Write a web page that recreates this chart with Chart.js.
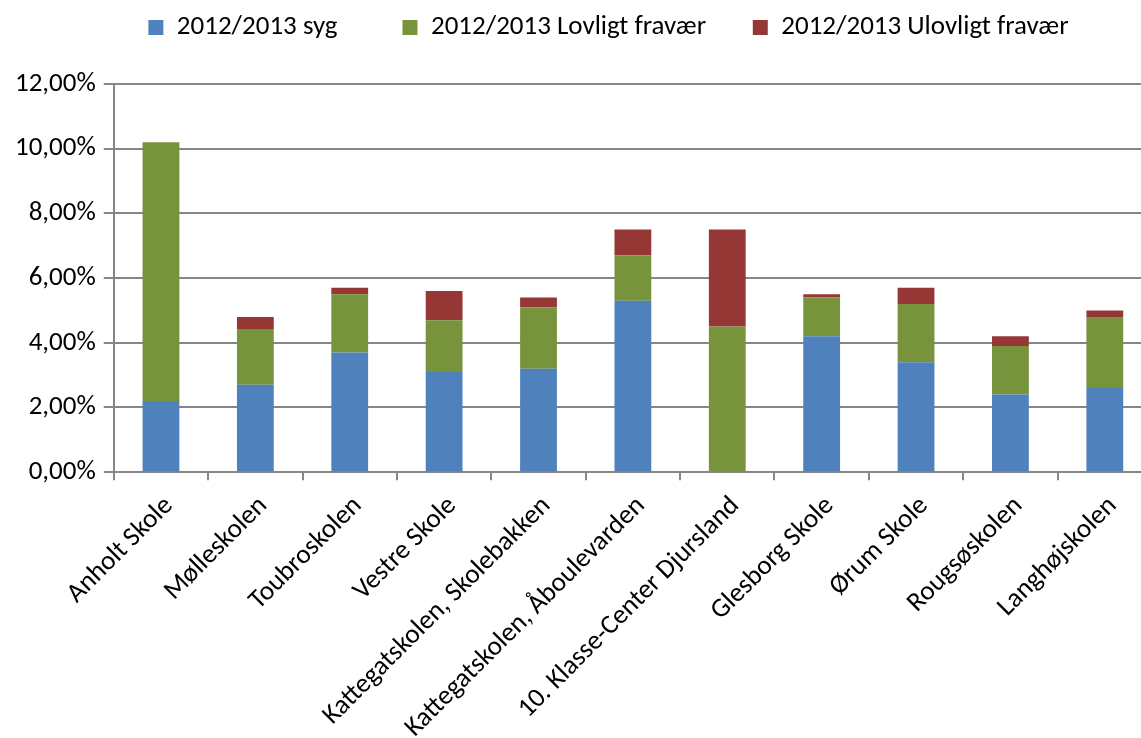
<!DOCTYPE html>
<html>
<head>
<meta charset="utf-8">
<script src="https://cdn.jsdelivr.net/npm/chart.js@4/dist/chart.umd.min.js"></script>
<style>
html,body{margin:0;padding:0;background:#fff;overflow:hidden;}
#wrap{position:absolute;left:0;top:0;width:1152px;height:738px;}
</style>
</head>
<body>
<div id="wrap"><canvas id="c"></canvas></div>
<script>
const categories = ["Anholt Skole","Mølleskolen","Toubroskolen","Vestre Skole","Kattegatskolen, Skolebakken","Kattegatskolen, Åboulevarden","10. Klasse-Center Djursland","Glesborg Skole","Ørum Skole","Rougsøskolen","Langhøjskolen"];
const seriesNames = ["2012/2013 syg","2012/2013 Lovligt fravær","2012/2013 Ulovligt fravær"];
const syg     = [2.2, 2.7, 3.7, 3.1, 3.2, 5.3, 0.0, 4.2, 3.4, 2.4, 2.6];
const lovligt = [8.0, 1.7, 1.8, 1.6, 1.9, 1.4, 4.5, 1.2, 1.8, 1.5, 2.2];
const ulovligt= [0.0, 0.4, 0.2, 0.9, 0.3, 0.8, 3.0, 0.1, 0.5, 0.3, 0.2];
const yTicks = [0, 2, 4, 6, 8, 10, 12];

const FONT = "Carlito, Lato, 'Open Sans', sans-serif";
const FS = 27;
const colors = ["#4F81BD", "#77933C", "#953735"];
const seriesData = [syg, lovligt, ulovligt];

const legendMargin = {
  id: 'legendMargin',
  beforeUpdate(chart) {
    const lg = chart.legend;
    if (lg && !lg._patched) {
      const f = lg.fit;
      lg.fit = function () { f.call(this); this.height += 32; };
      const d = lg.draw;
      lg.draw = function () {
        const ctx = this.ctx;
        ctx.save(); ctx.translate(29, -1); d.apply(this, arguments); ctx.restore();
      };
      lg._patched = true;
    }
  }
};

new Chart(document.getElementById('c'), {
  type: 'bar',
  data: {
    labels: categories,
    datasets: seriesNames.map((n, i) => ({
      label: n,
      data: seriesData[i],
      backgroundColor: colors[i],
      borderWidth: 0,
      barPercentage: 0.39,
      categoryPercentage: 1.0
    }))
  },
  plugins: [legendMargin],
  options: {
    responsive: true,
    maintainAspectRatio: false,
    animation: false,
    layout: { padding: { top: 5, left: 7, right: 0, bottom: -16 } },
    plugins: {
      legend: {
        position: 'top',
        labels: {
          font: { family: FONT, size: FS },
          color: '#000',
          boxWidth: 15,
          boxHeight: 15,
          padding: 10,
          generateLabels: (chart) => {
            const items = Chart.defaults.plugins.legend.labels.generateLabels(chart);
            const pads = ['         ', '      ', ''];
            items.forEach((it, i) => { it.text = it.text + pads[i]; });
            return items;
          }
        }
      },
      tooltip: { enabled: false }
    },
    scales: {
      x: {
        stacked: true,
        offset: true,
        grid: { display: true, drawOnChartArea: false, offset: true, tickLength: 8, color: '#868686', lineWidth: 2 },
        border: { color: '#868686', width: 2 },
        ticks: {
          font: { family: FONT, size: FS },
          color: '#000',
          maxRotation: 45,
          minRotation: 45,
          autoSkip: false,
          padding: 10,
          labelOffset: 8
        }
      },
      y: {
        stacked: true,
        min: 0,
        max: 12,
        afterBuildTicks: (ax) => { ax.ticks = yTicks.map(v => ({ value: v })); },
        grid: { color: '#868686', lineWidth: 2, tickLength: 10 },
        border: { color: '#868686', width: 2 },
        ticks: {
          font: { family: FONT, size: FS },
          color: '#000',
          padding: 8,
          callback: (v) => v.toFixed(2).replace('.', ',') + '%'
        }
      }
    }
  }
});
</script>
</body>
</html>
